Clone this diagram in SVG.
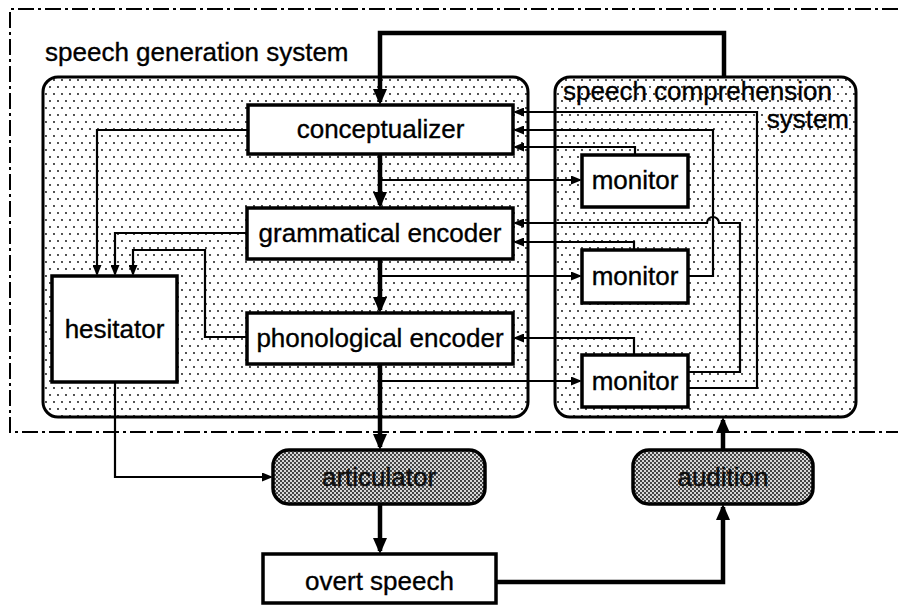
<svg xmlns="http://www.w3.org/2000/svg" width="898" height="607" viewBox="0 0 898 607">
  <style>
    text { font-family: "Liberation Sans", Arial, Helvetica, sans-serif; font-size: 26px; fill: #000; stroke: #000; stroke-width: 0.35; }
    .mid { text-anchor: middle; }
    .box { fill: #fff; stroke: #000; stroke-width: 3.5; }
    .sys { fill: url(#dots); stroke: #000; stroke-width: 3; }
    .proc { fill: url(#halftone); stroke: #000; stroke-width: 3.5; }
    .thick { fill: none; stroke: #000; stroke-width: 4.5; }
    .thin { fill: none; stroke: #000; stroke-width: 2.2; }
    .frame { fill: none; stroke: #000; stroke-width: 2; stroke-dasharray: 16 4 3 4; }
    .shaded { fill: #111; }
  </style>
  <defs>
    <pattern id="dots" width="8" height="14" patternUnits="userSpaceOnUse">
      <rect width="8" height="14" fill="#fff"/>
      <circle cx="2" cy="3" r="0.9" fill="#000"/>
      <circle cx="6" cy="10" r="0.9" fill="#000"/>
    </pattern>
    <pattern id="halftone" width="4" height="4" patternUnits="userSpaceOnUse">
      <rect width="4" height="4" fill="#d8d8d8"/>
      <circle cx="1" cy="1" r="0.9" fill="#000"/>
      <circle cx="3" cy="3" r="0.9" fill="#000"/>
    </pattern>
    <marker id="bigArrow" markerUnits="userSpaceOnUse" viewBox="0 0 16 14" markerWidth="16" markerHeight="14" refX="13" refY="7" orient="auto">
      <path d="M0,0 L16,7 L0,14 z" fill="#000"/>
    </marker>
    <marker id="smallArrow" markerUnits="userSpaceOnUse" viewBox="0 0 11 9" markerWidth="11" markerHeight="9" refX="9" refY="4.5" orient="auto">
      <path d="M0,0 L11,4.5 L0,9 z" fill="#000"/>
    </marker>
  </defs>

  <!-- outer dash-dot frame -->
  <path class="frame" d="M898,9 H10 V432 H898"/>

  <!-- system containers -->
  <g id="speech-generation-system">
    <rect class="sys" x="43" y="77" width="485" height="340" rx="15"/>
    <text x="45" y="61">speech generation system</text>
  </g>
  <g id="speech-comprehension-system">
    <rect class="sys" x="555" y="77" width="301" height="340" rx="15"/>
    <text x="563" y="100">speech comprehension</text>
    <text x="849" y="128" text-anchor="end">system</text>
  </g>

  <!-- connectors -->
  <g id="connectors">
    <!-- main thick flow -->
    <path class="thick" d="M724,77 V33 H380 V102" marker-end="url(#bigArrow)"/>
    <path class="thick" d="M380,154 V205" marker-end="url(#bigArrow)"/>
    <path class="thick" d="M380,259 V310" marker-end="url(#bigArrow)"/>
    <path class="thick" d="M380,364 V447" marker-end="url(#bigArrow)"/>
    <path class="thick" d="M380,504 V551" marker-end="url(#bigArrow)"/>
    <path class="thick" d="M496,582 H723 V507" marker-end="url(#bigArrow)"/>
    <path class="thick" d="M723,450 V420" marker-end="url(#bigArrow)"/>

    <!-- to hesitator -->
    <path class="thin" d="M248,130 H97 V274" marker-end="url(#smallArrow)"/>
    <path class="thin" d="M247,233 H115 V274" marker-end="url(#smallArrow)"/>
    <path class="thin" d="M247,337 H205 V250 H133 V274" marker-end="url(#smallArrow)"/>
    <path class="thin" d="M115,382 V477 H271" marker-end="url(#smallArrow)"/>

    <!-- to monitors -->
    <path class="thin" d="M380,180 H580" marker-end="url(#smallArrow)"/>
    <path class="thin" d="M380,276 H580" marker-end="url(#smallArrow)"/>
    <path class="thin" d="M380,381 H580" marker-end="url(#smallArrow)"/>

    <!-- monitor feedback -->
    <path class="thin" d="M688,388 H757 V112 H515" marker-end="url(#smallArrow)"/>
    <path class="thin" d="M688,276 H713 V130 H515" marker-end="url(#smallArrow)"/>
    <path class="thin" d="M635,155 V147 H515" marker-end="url(#smallArrow)"/>
    <path class="thin" d="M688,372 H740 V223 H719 A6,6 0 0 0 707,223 H515" marker-end="url(#smallArrow)"/>
    <path class="thin" d="M634,250 V242 H515" marker-end="url(#smallArrow)"/>
    <path class="thin" d="M634,355 V338 H515" marker-end="url(#smallArrow)"/>
  </g>

  <!-- nodes -->
  <g id="conceptualizer">
    <rect class="box" x="248" y="105" width="265" height="49"/>
    <text class="mid" x="380.5" y="138">conceptualizer</text>
  </g>
  <g id="grammatical-encoder">
    <rect class="box" x="247" y="208" width="266" height="51"/>
    <text class="mid" x="380" y="242">grammatical encoder</text>
  </g>
  <g id="phonological-encoder">
    <rect class="box" x="247" y="313" width="266" height="51"/>
    <text class="mid" x="380" y="347">phonological encoder</text>
  </g>
  <g id="hesitator">
    <rect class="box" x="52" y="276" width="125" height="106"/>
    <text class="mid" x="114.5" y="338">hesitator</text>
  </g>
  <g id="monitor-1">
    <rect class="box" x="582" y="155" width="106" height="52"/>
    <text class="mid" x="635" y="189">monitor</text>
  </g>
  <g id="monitor-2">
    <rect class="box" x="582" y="250" width="106" height="53"/>
    <text class="mid" x="635" y="285">monitor</text>
  </g>
  <g id="monitor-3">
    <rect class="box" x="582" y="355" width="106" height="52"/>
    <text class="mid" x="635" y="390">monitor</text>
  </g>
  <g id="articulator">
    <rect class="proc" x="273" y="450" width="212" height="54" rx="16"/>
    <text class="mid shaded" x="379" y="486">articulator</text>
  </g>
  <g id="audition">
    <rect class="proc" x="633" y="450" width="180" height="54" rx="16"/>
    <text class="mid shaded" x="723" y="486">audition</text>
  </g>
  <g id="overt-speech">
    <rect class="box" x="263" y="554" width="233" height="49"/>
    <text class="mid" x="379.5" y="590">overt speech</text>
  </g>
</svg>
